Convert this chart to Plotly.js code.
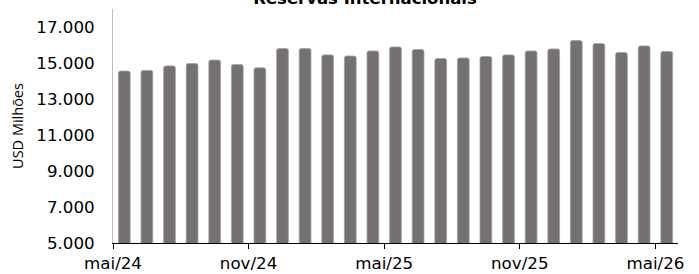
<!DOCTYPE html>
<html>
<head>
<meta charset="utf-8">
<script src="https://cdn.plot.ly/plotly-3.0.1.min.js"></script>
<style>html,body{margin:0;padding:0;background:#fff;}#chart{width:699px;height:274px;}</style>
</head>
<body>
<div id="chart"></div>
<script>
// Months mai/24 .. mai/26
var months = ["mai/24","jun/24","jul/24","ago/24","set/24","out/24","nov/24","dez/24","jan/25","fev/25","mar/25","abr/25","mai/25","jun/25","jul/25","ago/25","set/25","out/25","nov/25","dez/25","jan/26","fev/26","mar/26","abr/26","mai/26"];
var reservas = [14550,14590,14840,14970,15160,14920,14730,15800,15800,15450,15390,15670,15890,15750,15250,15280,15360,15450,15670,15780,16250,16080,15580,15950,15640];
var tickLabels = ["mai/24","nov/24","mai/25","nov/25","mai/26"];
var tickIdx = [0,6,12,18,24];
var yTicks = [5000,7000,9000,11000,13000,15000,17000];

var xIdx = months.map(function(m,i){return i;});
var tickPos = tickIdx.map(function(i){return i-0.5;});

var trace = {
  type:'bar',
  x:xIdx,
  y:reservas,
  hovertext:months,
  hoverinfo:'text+y',
  textposition:'none',
  width:0.52,
  marker:{color:'#767171', line:{color:'#a3a0a0', width:0.8}, cornerradius:2}
};

var layout = {
  width:699, height:274,
  margin:{l:113, r:21, t:9, b:31},
  paper_bgcolor:'#fff', plot_bgcolor:'#fff',
  separators:',.',
  showlegend:false,
  title:{
    text:'<b>Reservas Internacionais</b>',
    font:{family:'DejaVu Sans', size:16.5, color:'#000'},
    xref:'container', x:365/699, xanchor:'center',
    yref:'container', y:1-4/274, yanchor:'bottom'
  },
  xaxis:{
    type:'linear',
    range:[-0.5,24.5],
    tickmode:'array', tickvals:tickPos, ticktext:tickLabels,
    ticks:'outside', ticklen:5, tickcolor:'#000', tickwidth:1,
    ticklabelshift:11.3,
    ticklabelstandoff:0,
    showline:true, linecolor:'#000', linewidth:1,
    showgrid:false, zeroline:false,
    tickfont:{family:'DejaVu Sans', size:16.7, color:'#000'}
  },
  yaxis:{
    range:[5000,18000],
    tickmode:'array', tickvals:yTicks,
    tickformat:',d',
    ticks:'', showline:true, linecolor:'#bfbfbf', linewidth:1,
    showgrid:false, zeroline:false,
    ticklabelstandoff:14,
    tickfont:{family:'DejaVu Sans', size:16.7, color:'#000'},
    title:{text:'USD Milhões', font:{family:'Open Sans', size:14.5, color:'#000'}, standoff:9}
  }
};

Plotly.newPlot('chart',[trace],layout,{displayModeBar:false, staticPlot:true});
</script>
</body>
</html>
